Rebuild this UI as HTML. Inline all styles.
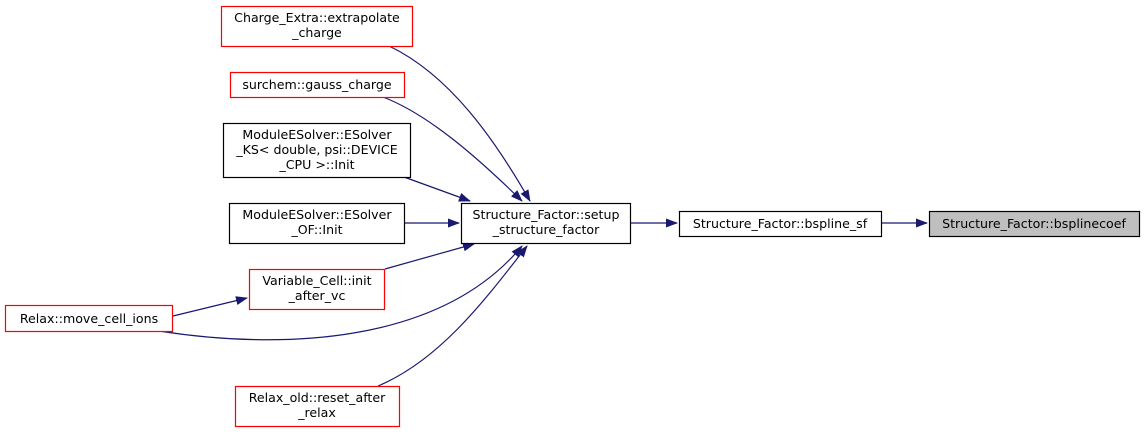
<!DOCTYPE html>
<html><head><meta charset="utf-8"><style>
html,body{margin:0;padding:0;background:#fff;}
svg{display:block;}
text{font-family:"DejaVu Sans","Liberation Sans",sans-serif;font-size:12.6px;fill:#000;}
</style></head><body>
<svg width="1145" height="432" viewBox="0 0 1145 432" xmlns="http://www.w3.org/2000/svg">
<defs>
<marker id="a" markerWidth="12" markerHeight="9" refX="11" refY="4.5" orient="auto" markerUnits="userSpaceOnUse">
<path d="M0,0 L12,4.5 L0,9 Z" fill="#191970"/>
</marker>
</defs>
<g fill="none" stroke="#191970" stroke-width="1.2">
<path d="M389,46 C450,75 495,140 530,201" marker-end="url(#a)"/>
<path d="M383,97 C430,115 480,160 522,201" marker-end="url(#a)"/>
<path d="M404,177 L470,201" marker-end="url(#a)"/>
<path d="M405,223 L459,223" marker-end="url(#a)"/>
<path d="M385,269 L474,244" marker-end="url(#a)"/>
<path d="M159,331 C280,350 440,345 522,246" marker-end="url(#a)"/>
<path d="M378,386 C440,360 485,300 527,246" marker-end="url(#a)"/>
<path d="M173,316 L247,298" marker-end="url(#a)"/>
<path d="M631,223 L677,223" marker-end="url(#a)"/>
<path d="M882,223 L927,223" marker-end="url(#a)"/>
</g>
<g stroke-width="1.2">
<rect x="221.5" y="6.5" width="191" height="40" fill="#fff" stroke="#ff0000"/>
<rect x="230.5" y="72.5" width="174" height="25" fill="#fff" stroke="#ff0000"/>
<rect x="223.5" y="123.5" width="187" height="54" fill="#fff" stroke="#000"/>
<rect x="229.5" y="203.5" width="175" height="40" fill="#fff" stroke="#000"/>
<rect x="461.5" y="203.5" width="169" height="40" fill="#fff" stroke="#000"/>
<rect x="679.5" y="211.5" width="202" height="25" fill="#fff" stroke="#000"/>
<rect x="929.5" y="211.5" width="210" height="25" fill="#bfbfbf" stroke="#000"/>
<rect x="249.5" y="269.5" width="135" height="40" fill="#fff" stroke="#ff0000"/>
<rect x="5.5" y="305.5" width="167" height="26" fill="#fff" stroke="#ff0000"/>
<rect x="235.5" y="386.5" width="164" height="40" fill="#fff" stroke="#ff0000"/>
</g>
<g text-anchor="middle">
<text x="317" y="22">Charge_Extra::extrapolate</text>
<text x="317" y="37">_charge</text>
<text x="317" y="89">surchem::gauss_charge</text>
<text x="317" y="139">ModuleESolver::ESolver</text>
<text x="317" y="154">_KS&lt; double, psi::DEVICE</text>
<text x="317" y="169">_CPU &gt;::Init</text>
<text x="317" y="219">ModuleESolver::ESolver</text>
<text x="317" y="234">_OF::Init</text>
<text x="546" y="219">Structure_Factor::setup</text>
<text x="546" y="234">_structure_factor</text>
<text x="780" y="228">Structure_Factor::bspline_sf</text>
<text x="1034" y="228">Structure_Factor::bsplinecoef</text>
<text x="317" y="285">Variable_Cell::init</text>
<text x="317" y="300">_after_vc</text>
<text x="89" y="323">Relax::move_cell_ions</text>
<text x="317" y="402">Relax_old::reset_after</text>
<text x="317" y="417">_relax</text>
</g>
</svg>
</body></html>
